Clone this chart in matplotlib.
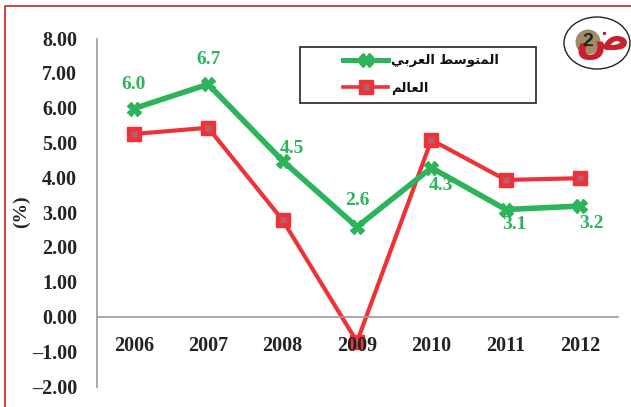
import matplotlib

matplotlib.use("Agg")
import matplotlib.pyplot as plt
from matplotlib.legend_handler import HandlerTuple
from matplotlib.lines import Line2D
from matplotlib.patches import Circle, Ellipse, Rectangle
from matplotlib.transforms import ScaledTranslation

years = ["2006", "2007", "2008", "2009", "2010", "2011", "2012"]
arab_avg = [6.0, 6.7, 4.5, 2.6, 4.3, 3.1, 3.2]
world = [5.27, 5.45, 2.8, -0.7, 5.1, 3.95, 4.0]
arab_labels = ["6.0", "6.7", "4.5", "2.6", "4.3", "3.1", "3.2"]
y_ticks = [8, 7, 6, 5, 4, 3, 2, 1, 0, -1, -2]
y_tick_labels = ["8.00", "7.00", "6.00", "5.00", "4.00", "3.00", "2.00", "1.00", "0.00", "–1.00", "–2.00"]

# shaped Arabic forms, reversed because matplotlib draws left to right
arab_name = "\ufe8d\ufedf\ufee4\ufe98\ufeee\ufeb3\ufec2 \ufe8d\ufedf\ufecc\ufeae\ufe91\ufef2"[::-1]
world_name = "\ufe8d\ufedf\ufecc\ufe8e\ufedf\ufee2"[::-1]

# label offsets from each point, in px (right, up)
label_offsets = [(0, 24), (0, 25), (9, 12), (0, 26), (10, -18), (9, -15), (11, -17)]

GREEN = "#2bb45a"
RED = "#ee3338"
RED_DOT = "#b5606e"
GREY = "#9a9a9e"
W, H = 631, 407

plt.rcParams["font.family"] = ["Liberation Serif", "DejaVu Sans"]
plt.rcParams["font.weight"] = "bold"

fig = plt.figure(figsize=(W / 100, H / 100), dpi=100)
ax = fig.add_axes([96.5 / W, 1 - 387 / H, 521 / W, 348 / H])

x = list(range(len(years)))
ax.plot(x, world, color=RED, lw=3, marker="s", ms=10.5, mec=RED, mfc=RED, zorder=2)
ax.plot(x, world, ls="none", marker="s", ms=4, mec="none", mfc=RED_DOT, zorder=2.05)
ax.plot(x, arab_avg, color=GREEN, lw=4, marker="X", ms=10, mec=GREEN, mfc=GREEN, zorder=2.1)

for xi, yi, txt, off in zip(x, arab_avg, arab_labels, label_offsets):
    ax.annotate(txt, (xi, yi), xytext=(off[0] * 0.72, off[1] * 0.72), textcoords="offset points",
                ha="center", va="center", color=GREEN, fontsize=14)

ax.set_xlim(-0.5, 6.5)
ax.set_ylim(-2, 8)
ax.set_xticks(x, years)
ax.set_yticks(y_ticks, y_tick_labels)
ax.tick_params(axis="both", length=0, labelsize=14.5, labelcolor="#222222")
ax.tick_params(axis="x", pad=13.5)
ax.tick_params(axis="y", pad=14)
for label in ax.get_yticklabels():
    label.set_transform(label.get_transform() + ScaledTranslation(0, 0.01, fig.dpi_scale_trans))
ax.set_axisbelow(False)
for side in ("top", "right"):
    ax.spines[side].set_visible(False)
ax.spines["bottom"].set_position(("data", 0))
ax.spines["bottom"].set_color(GREY)
ax.spines["left"].set_color(GREY)
ax.spines["bottom"].set_linewidth(1.2)
ax.spines["left"].set_linewidth(1.2)

fig.text(21 / W, 1 - 212 / H, "(%)", rotation=90, ha="center", va="center", fontsize=14, color="#222222")

# legend box
fig.add_artist(Rectangle((299.5 / W, 1 - 103 / H), 236 / W, 56 / H, transform=fig.transFigure,
                         fc="white", ec="#222222", lw=1.2))
handles = [
    Line2D([], [], color=GREEN, lw=3.6, marker="X", ms=10, mec=GREEN),
    (Line2D([], [], color=RED, lw=2.6, marker="s", ms=10.5, mec=RED),
     Line2D([], [], ls="none", marker="s", ms=4, mec="none", mfc=RED_DOT)),
]
fig.legend(handles, [arab_name, world_name], loc="center left", bbox_to_anchor=(331 / W, 1 - 74.5 / H),
           frameon=False, handlelength=3.45, handletextpad=0.2, labelspacing=1.1,
           handler_map={tuple: HandlerTuple(ndivide=1, pad=0)},
           prop={"size": 9.5, "family": "DejaVu Sans", "weight": "bold"}, labelcolor="#111111")

# red page border, open at the bottom
fig.add_artist(Line2D([4.5 / W, 4.5 / W, 1], [0, 1 - 5.5 / H, 1 - 5.5 / H], transform=fig.transFigure,
                      color="#cc2229", lw=1.2))

# corner badge
logo = fig.add_axes([0, 0, 1, 1], facecolor="none")
logo.set_xlim(0, W)
logo.set_ylim(H, 0)
logo.axis("off")
logo.add_patch(Ellipse((597, 43), 66, 52, fc="white", ec="#222222", lw=1))
logo.text(575, 40, "\ufebd", color="#c8202c", fontsize=29, ha="left", va="center", family="DejaVu Sans")
logo.add_patch(Circle((588, 42), 12.5, fc="#a08c68", ec="none"))
logo.text(588, 42, "2", color="#222222", fontsize=14, ha="center", va="center", family="Liberation Sans")

fig.savefig("out.png", dpi=100)
